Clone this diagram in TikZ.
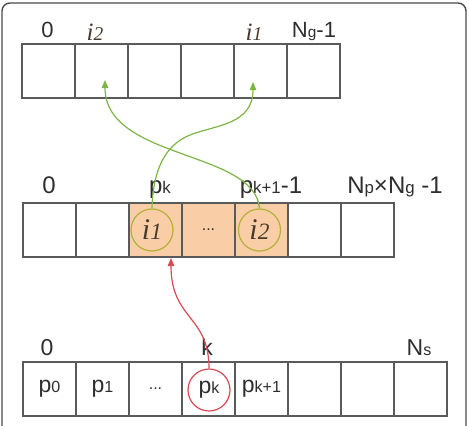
\documentclass[tikz,border=0pt]{standalone}
\usepackage{fontspec}
\setmainfont{Liberation Sans}
\newfontfamily\serf{Liberation Serif}
\usetikzlibrary{arrows.meta}
\definecolor{framec}{HTML}{4A4A4A}
\definecolor{cellc}{HTML}{5A5A5A}
\definecolor{peach}{HTML}{F9CDA6}
\definecolor{ringc}{HTML}{B2B23A}
\definecolor{greenc}{HTML}{7DB546}
\definecolor{redc}{HTML}{D94A55}
\definecolor{txt}{HTML}{2E2E2E}
\definecolor{itx}{HTML}{4A3A2C}
\newcommand\fs[1]{\fontsize{#1}{#1}\selectfont}
\newcommand\sbx[1]{\scalebox{0.7}{#1}}
\newcommand\iv[1]{{\serf\itshape i\scalebox{0.78}{#1}}}
\tikzset{
  cell/.style={draw=cellc, line width=1.3pt, minimum width=53pt, minimum height=54pt, inner sep=0pt, outer sep=0pt, text=txt},
  lab/.style={inner sep=0pt, anchor=base, text=txt},
  ring/.style={circle, draw=#1, line width=1.2pt, minimum size=42pt, inner sep=0pt},
  garrow/.style={draw=greenc, line width=1.2pt, -{Triangle[width=6.5pt,length=8pt]}},
  rarrow/.style={draw=redc, line width=1.2pt, -{Triangle[width=6.5pt,length=8pt]}}
}
\begin{document}
\begin{tikzpicture}[x=1pt,y=-1pt]
\useasboundingbox (0,0) rectangle (469,426);
\clip (0,0) rectangle (469,426);
\draw[framec, line width=1.4pt, rounded corners=8pt] (2,440) -- (2,3) -- (466,3) -- (466,440);
% top array
\foreach \i in {1,...,6} \node[cell] (t\i) at ({22+53*(\i-0.5)},71) {};
\node[lab, font=\fs{22}] (tl0) at (47.5,37) {0};
\node[lab, font=\fs{25}, text=itx] (tl1) at (95,40) {\iv{2}};
\node[lab, font=\fs{25}, text=itx] (tl2) at (254,40) {\iv{1}};
\node[lab, font=\fs{22}] (tl3) at (314,37) {N\sbx{g}-1};
% middle array
\foreach \i/\f in {1/white,2/white,3/peach,4/peach,5/peach,6/white,7/white}
  \node[cell, fill=\f] (m\i) at ({23+53*(\i-0.5)},230) {};
\node[text=txt, font=\fs{16}] (dots1) at (m4) {...};
\node[ring=ringc, text=itx, font=\fs{30}] (c1) at (152,230) {\iv{1}};
\node[ring=ringc, text=itx, font=\fs{30}] (c2) at (259.5,230) {\iv{2}};
\node[lab, font=\fs{24}] (ml0) at (49,193) {0};
\node[lab, font=\fs{24}] (ml1) at (160,193) {p\sbx{k}};
\node[lab, font=\fs{24}] (ml2) at (271,193) {p\sbx{k+1}-1};
\node[lab, font=\fs{24}] (ml3) at (395,193) {N\sbx{p}×N\sbx{g} -1};
% bottom array
\node[cell, font=\fs{23}] (b1) at (49.5,389) {p\sbx{0}};
\node[cell, font=\fs{23}] (b2) at (102.5,389) {p\sbx{1}};
\node[cell, font=\fs{16}] (b3) at (155.5,389) {...};
\node[cell] (b4) at (208.5,389) {};
\node[cell, font=\fs{23}] (b5) at (261.5,389) {p\sbx{k+1}};
\node[cell] (b6) at (314.5,389) {};
\node[cell] (b7) at (367.5,389) {};
\node[cell] (b8) at (420.5,389) {};
\node[ring=redc, text=txt, font=\fs{23}] (c3) at (209,390) {p\sbx{k}};
\node[lab, font=\fs{23}] (bl0) at (47,355) {0};
\node[lab, font=\fs{23}] (bl1) at (207,355) {k};
\node[lab, font=\fs{23}] (bl2) at (419,355) {N\sbx{s}};
% connectors
\coordinate (e1) at (253,82);
\coordinate (e2) at (105,80);
\coordinate (e3) at (171,258);
\draw[garrow] (c1.north) .. controls (153,170) and (165,145) .. (190,135) .. controls (215,125) and (253,125) .. (e1);
\draw[garrow] (c2.north) .. controls (255,150) and (105,160) .. (e2);
\draw[rarrow] (c3.north) .. controls (209,315) and (171,320) .. (e3);
\end{tikzpicture}
\end{document}
